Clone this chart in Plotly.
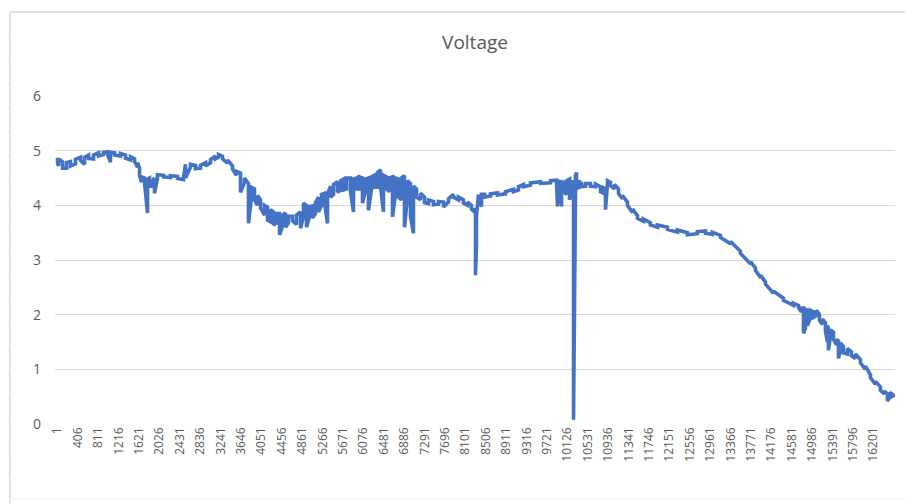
import plotly.graph_objects as go

# ---- data: sample index, upper and lower reading at that sample ----
sample_index = [
    1, 21, 100, 180, 259, 358, 458, 537, 616, 716, 815, 914, 994, 1053, 1133, 1252, 1351, 1450,
    1530, 1589, 1629, 1668, 1728, 1788, 1827, 1887, 1926, 1986, 2105, 2244, 2383, 2502, 2542,
    2641, 2740, 2840, 2939, 3038, 3138, 3197, 3276, 3375, 3475, 3554, 3634, 3713, 3792, 3852,
    3911, 3971, 4031, 4110, 4170, 4229, 4289, 4348, 4408, 4467, 4527, 4586, 4666, 4745, 4825,
    4884, 4944, 5003, 5063, 5122, 5182, 5241, 5301, 5361, 5420, 5480, 5559, 5619, 5678, 5738,
    5817, 5877, 5936, 5996, 6055, 6115, 6174, 6234, 6293, 6353, 6413, 6472, 6532, 6591, 6651,
    6710, 6770, 6829, 6889, 6948, 7008, 7067, 7127, 7207, 7286, 7366, 7465, 7564, 7663, 7762,
    7862, 7961, 8060, 8140, 8219, 8279, 8299, 8318, 8358, 8418, 8477, 8596, 8735, 8894, 9053,
    9152, 9252, 9391, 9589, 9788, 9907, 9927, 9967, 10007, 10046, 10106, 10165, 10205, 10245,
    10284, 10304, 10344, 10403, 10483, 10582, 10681, 10780, 10839, 10879, 10919, 10978, 11058,
    11137, 11216, 11316, 11415, 11514, 11633, 11772, 11911, 12110, 12308, 12507, 12705, 12864,
    13003, 13162, 13361, 13559, 13758, 13857, 13956, 14056, 14215, 14413, 14611, 14710, 14770,
    14810, 14849, 14889, 14948, 15008, 15067, 15127, 15187, 15246, 15286, 15305, 15345, 15405,
    15464, 15504, 15543, 15603, 15682, 15762, 15841, 15940, 16040, 16139, 16238, 16337, 16417,
    16476, 16516, 16556, 16596,
]
voltage_high = [
    4.87, 4.85, 4.80, 4.78, 4.80, 4.84, 4.88, 4.88, 4.92, 4.92, 4.96, 4.97, 4.98, 4.97, 4.96, 4.95, 4.92, 4.89,
    4.85, 4.78, 4.68, 4.52, 4.50, 4.48, 4.50, 4.45, 4.50, 4.56, 4.55, 4.54, 4.53, 4.51, 4.75,
    4.75, 4.73, 4.73, 4.78, 4.84, 4.90, 4.93, 4.90, 4.83, 4.72, 4.62, 4.59, 4.50, 4.40, 4.33,
    4.30, 4.18, 4.10, 4.00, 3.97, 3.92, 3.88, 3.85, 3.85, 3.82, 3.86, 3.80, 3.80, 3.82, 3.88,
    4.04, 4.00, 3.98, 3.99, 4.05, 4.15, 4.20, 4.22, 4.20, 4.35, 4.38, 4.43, 4.45, 4.48, 4.50,
    4.50, 4.48, 4.50, 4.52, 4.50, 4.48, 4.50, 4.52, 4.55, 4.60, 4.65, 4.55, 4.52, 4.50, 4.52,
    4.50, 4.48, 4.50, 4.54, 4.45, 4.40, 4.35, 4.30, 4.22, 4.15, 4.10, 4.07, 4.07, 4.06, 4.12,
    4.20, 4.15, 4.10, 4.06, 4.00, 3.95, 3.90, 3.80, 4.20, 4.20, 4.20, 4.21, 4.23, 4.25, 4.29,
    4.34, 4.38, 4.41, 4.43, 4.45, 4.46, 4.45, 4.44, 4.40, 4.45, 4.45, 4.48, 4.45, 4.40,
    4.55, 4.60, 4.45, 4.40, 4.40, 4.40, 4.39, 4.34, 4.32, 4.30, 4.45, 4.42, 4.38,
    4.30, 4.18, 4.06, 3.93, 3.81, 3.75, 3.68, 3.64, 3.60, 3.55, 3.50, 3.52, 3.53,
    3.51, 3.45, 3.34, 3.16, 2.97, 2.85, 2.72, 2.60, 2.43, 2.30, 2.21, 2.17, 2.12,
    2.12, 2.10, 2.08, 2.08, 2.05, 2.08, 2.00, 1.92, 1.85, 1.80, 1.75, 1.72, 1.68,
    1.55, 1.52, 1.48, 1.42, 1.38, 1.32, 1.28, 1.18, 1.06, 0.90, 0.78, 0.68, 0.60,
    0.55, 0.55, 0.58, 0.56,
]
voltage_low = [
    4.78, 4.72, 4.68, 4.68, 4.72, 4.76, 4.82, 4.75, 4.86, 4.85, 4.90, 4.93, 4.93, 4.79, 4.92, 4.90, 4.86, 4.83,
    4.80, 4.70, 4.55, 4.42, 4.42, 3.86, 4.35, 4.35, 4.22, 4.50, 4.52, 4.51, 4.49, 4.47, 4.50,
    4.70, 4.67, 4.68, 4.72, 4.78, 4.85, 4.88, 4.85, 4.77, 4.66, 4.55, 4.24, 4.42, 3.67, 4.15,
    4.10, 4.00, 3.95, 3.82, 3.73, 3.70, 3.64, 3.68, 3.46, 3.62, 3.60, 3.68, 3.72, 3.65, 3.58,
    3.80, 3.60, 3.80, 3.77, 3.85, 3.88, 4.00, 4.05, 3.67, 4.15, 4.20, 4.24, 4.28, 4.28, 4.30,
    4.25, 3.88, 4.30, 4.30, 4.04, 4.28, 3.91, 4.30, 4.33, 4.33, 4.35, 3.88, 4.30, 4.25, 3.79,
    4.20, 4.15, 4.10, 3.60, 4.15, 3.80, 3.49, 4.15, 4.10, 4.05, 4.03, 4.01, 4.02, 3.97, 4.06,
    4.15, 4.10, 4.04, 4.00, 3.93, 3.88, 2.72, 3.25, 4.10, 3.98, 4.15, 4.17, 4.19, 4.21, 4.25,
    4.28, 4.34, 4.37, 4.40, 4.41, 4.42, 3.98, 4.35, 3.98, 4.25, 4.20, 4.10, 4.30, 0.08,
    4.25, 4.35, 4.30, 4.34, 4.35, 4.35, 4.34, 4.25, 4.22, 3.92, 4.38, 4.36, 4.30,
    4.22, 4.12, 4.00, 3.87, 3.76, 3.71, 3.64, 3.60, 3.56, 3.51, 3.46, 3.48, 3.49,
    3.47, 3.41, 3.30, 3.12, 2.93, 2.81, 2.68, 2.56, 2.39, 2.26, 2.17, 2.13, 2.05,
    1.66, 1.75, 1.80, 1.95, 1.95, 1.98, 1.90, 1.82, 1.70, 1.50, 1.35, 1.60, 1.55,
    1.45, 1.20, 1.35, 1.30, 1.28, 1.25, 1.20, 1.12, 1.00, 0.85, 0.73, 0.62, 0.55,
    0.42, 0.48, 0.50, 0.52,
]
tick_values = [1 + 405 * k for k in range(41)]
tick_labels = [str(v) for v in tick_values]
y_ticks = [0, 1, 2, 3, 4, 5, 6]

grid = "#D9D9D9"
txt = "#595959"

# draw each sample as a short stroke between its upper and lower reading
xs, ys = [], []
for k, (i, hi, lo) in enumerate(zip(sample_index, voltage_high, voltage_low)):
    pair = (hi, lo) if k % 2 == 0 else (lo, hi)
    xs += [i, i]
    ys += list(pair)

fig = go.Figure(go.Scatter(
    x=xs, y=ys, mode="lines",
    line=dict(color="#4472C4", width=3.6),
    hoverinfo="x+y", showlegend=False,
))

# page has an 8px body margin: plot area in page pixels is x 55..895, y 96..424
PL, PT, W, H = 55, 96, 840, 328
FW, FH = 905, 496
def pxx(x):
    return (x - PL) / W
def pxy(y):
    return (PT + H - y) / H

shapes = [
    dict(type="line", xref="paper", yref="paper", x0=pxx(10), x1=pxx(920), y0=pxy(12), y1=pxy(12),
         line=dict(color="#E3E3E3", width=2)),
    dict(type="line", xref="paper", yref="paper", x0=pxx(10), x1=pxx(10), y0=pxy(12), y1=pxy(510),
         line=dict(color="#E3E3E3", width=2)),
    dict(type="line", xref="paper", yref="paper", x0=pxx(10), x1=pxx(920), y0=pxy(499), y1=pxy(499),
         line=dict(color="#EDEDED", width=1)),
]
yy = 35.0
while yy < 500:
    shapes.append(dict(type="line", xref="paper", yref="paper", x0=pxx(6), x1=pxx(10),
                       y0=pxy(yy), y1=pxy(yy), line=dict(color="#E0E0E0", width=1)))
    yy += 24.3

fig.update_layout(
    width=FW, height=FH,
    margin=dict(l=PL - 8, r=FW - (PL - 8) - W, t=PT - 8, b=FH - (PT - 8) - H),
    paper_bgcolor="white", plot_bgcolor="white",
    title=dict(text="Voltage", x=0.5, xref="paper", y=1 - (42 - 8) / FH, yanchor="middle",
               font=dict(family="Open Sans, Liberation Sans, sans-serif", size=19, color=txt)),
    font=dict(family="Open Sans, Liberation Sans, sans-serif", color=txt),
    xaxis=dict(range=[-49, 16627], tickvals=tick_values, ticktext=tick_labels, tickangle=-90,
               showgrid=False, zeroline=False, showline=False, ticks="",
               tickfont=dict(size=12, color=txt)),
    yaxis=dict(range=[0, 6], tickvals=y_ticks, showgrid=True, gridcolor=grid, gridwidth=1,
               zeroline=False, showline=False, ticks="", ticklabelstandoff=13,
               tickfont=dict(size=14, color=txt)),
    shapes=shapes,
)
fig.write_html("out.html")
